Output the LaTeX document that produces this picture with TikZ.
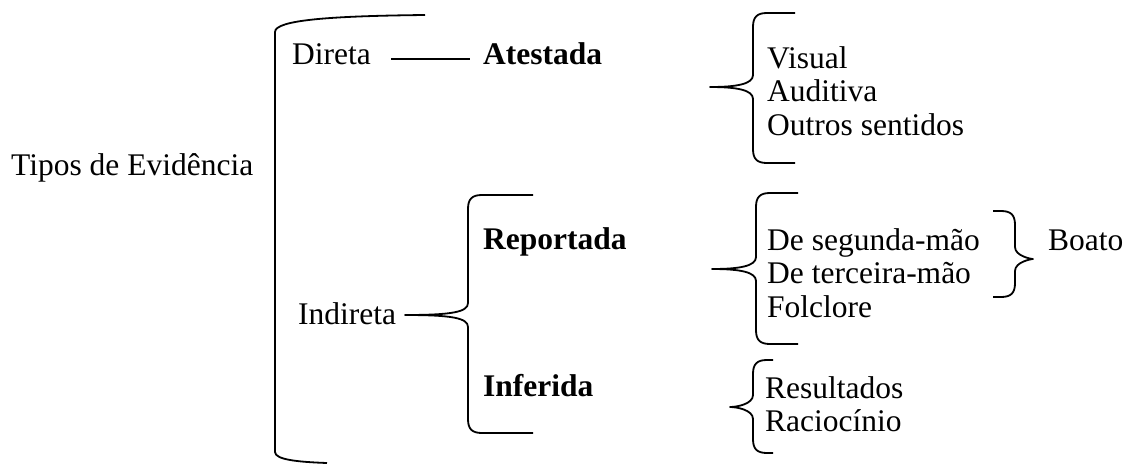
\documentclass[tikz,border=0pt]{standalone}
\usepackage{fontspec}
\setmainfont{Liberation Serif}
% #1 vertical x, #2 top y, #3 bottom y, #4 tip x, #5 tip y, #6 arm end x, #7 direction (1 left brace, -1 right brace)
\newcommand\mybrace[7]{%
  \draw[brc] (#6,#2) -- ({#1+(#7)*14},#2)
    .. controls ({#1+(#7)*4},#2) and (#1,{#2+4}) .. (#1,{#2+14})
    -- (#1,{#5-12})
    .. controls (#1,{#5-3}) and ({#1-(#7)*16},#5) .. (#4,#5)
    .. controls ({#1-(#7)*16},#5) and (#1,{#5+3}) .. (#1,{#5+12})
    -- (#1,{#3-14})
    .. controls (#1,{#3-4}) and ({#1+(#7)*4},#3) .. ({#1+(#7)*14},#3)
    -- (#6,#3);}
\begin{document}
\begin{tikzpicture}[x=1pt,y=-1pt,
  txt/.style={anchor=base west,inner sep=0pt,font=\fontsize{31.5}{36}\selectfont},
  bld/.style={txt,font=\fontsize{31.5}{36}\selectfont\bfseries},
  brc/.style={line width=1.8pt,line join=round},
  ln/.style={line width=1.8pt}]
\useasboundingbox (0,0) rectangle (1131,464);
% texts
\node[txt] (tipos) at (11,175) {Tipos de Evidência};
\node[txt] (direta) at (292,64) {Direta};
\node[bld] (atestada) at (483,64) {Atestada};
\node[txt] (indireta) at (298,324) {Indireta};
\node[bld] (reportada) at (483,249) {Reportada};
\node[bld] (inferida) at (483,396) {Inferida};
\node[txt] (visual) at (767,68) {Visual};
\node[txt] (auditiva) at (767,101.5) {Auditiva};
\node[txt] (outros) at (767,135) {Outros sentidos};
\node[txt] (segunda) at (767,250) {De segunda-mão};
\node[txt] (terceira) at (767,283.5) {De terceira-mão};
\node[txt] (folclore) at (767,317) {Folclore};
\node[txt] (boato) at (1048,250) {Boato};
\node[txt] (resultados) at (765,398) {Resultados};
\node[txt] (raciocinio) at (765,431.5) {Raciocínio};
% big bracket
\draw[brc] (425,15) .. controls (330,16) and (275,20) .. (275,32)
  -- (275,452) .. controls (275,460) and (300,462) .. (327,463);
% connector Direta -- Atestada
\draw[ln] ([xshift=20pt,yshift=5pt]direta.base east) -- ([xshift=-13pt,yshift=5pt]atestada.base west);
% braces
\mybrace{468}{195}{433}{405}{315}{533}{1}
\mybrace{753}{13}{163}{710}{87}{795}{1}
\mybrace{756}{193}{344}{712}{269}{798}{1}
\mybrace{753}{360}{453}{730}{407}{773}{1}
\mybrace{1015}{211}{297}{1033}{259}{993}{-1}
\end{tikzpicture}
\end{document}
